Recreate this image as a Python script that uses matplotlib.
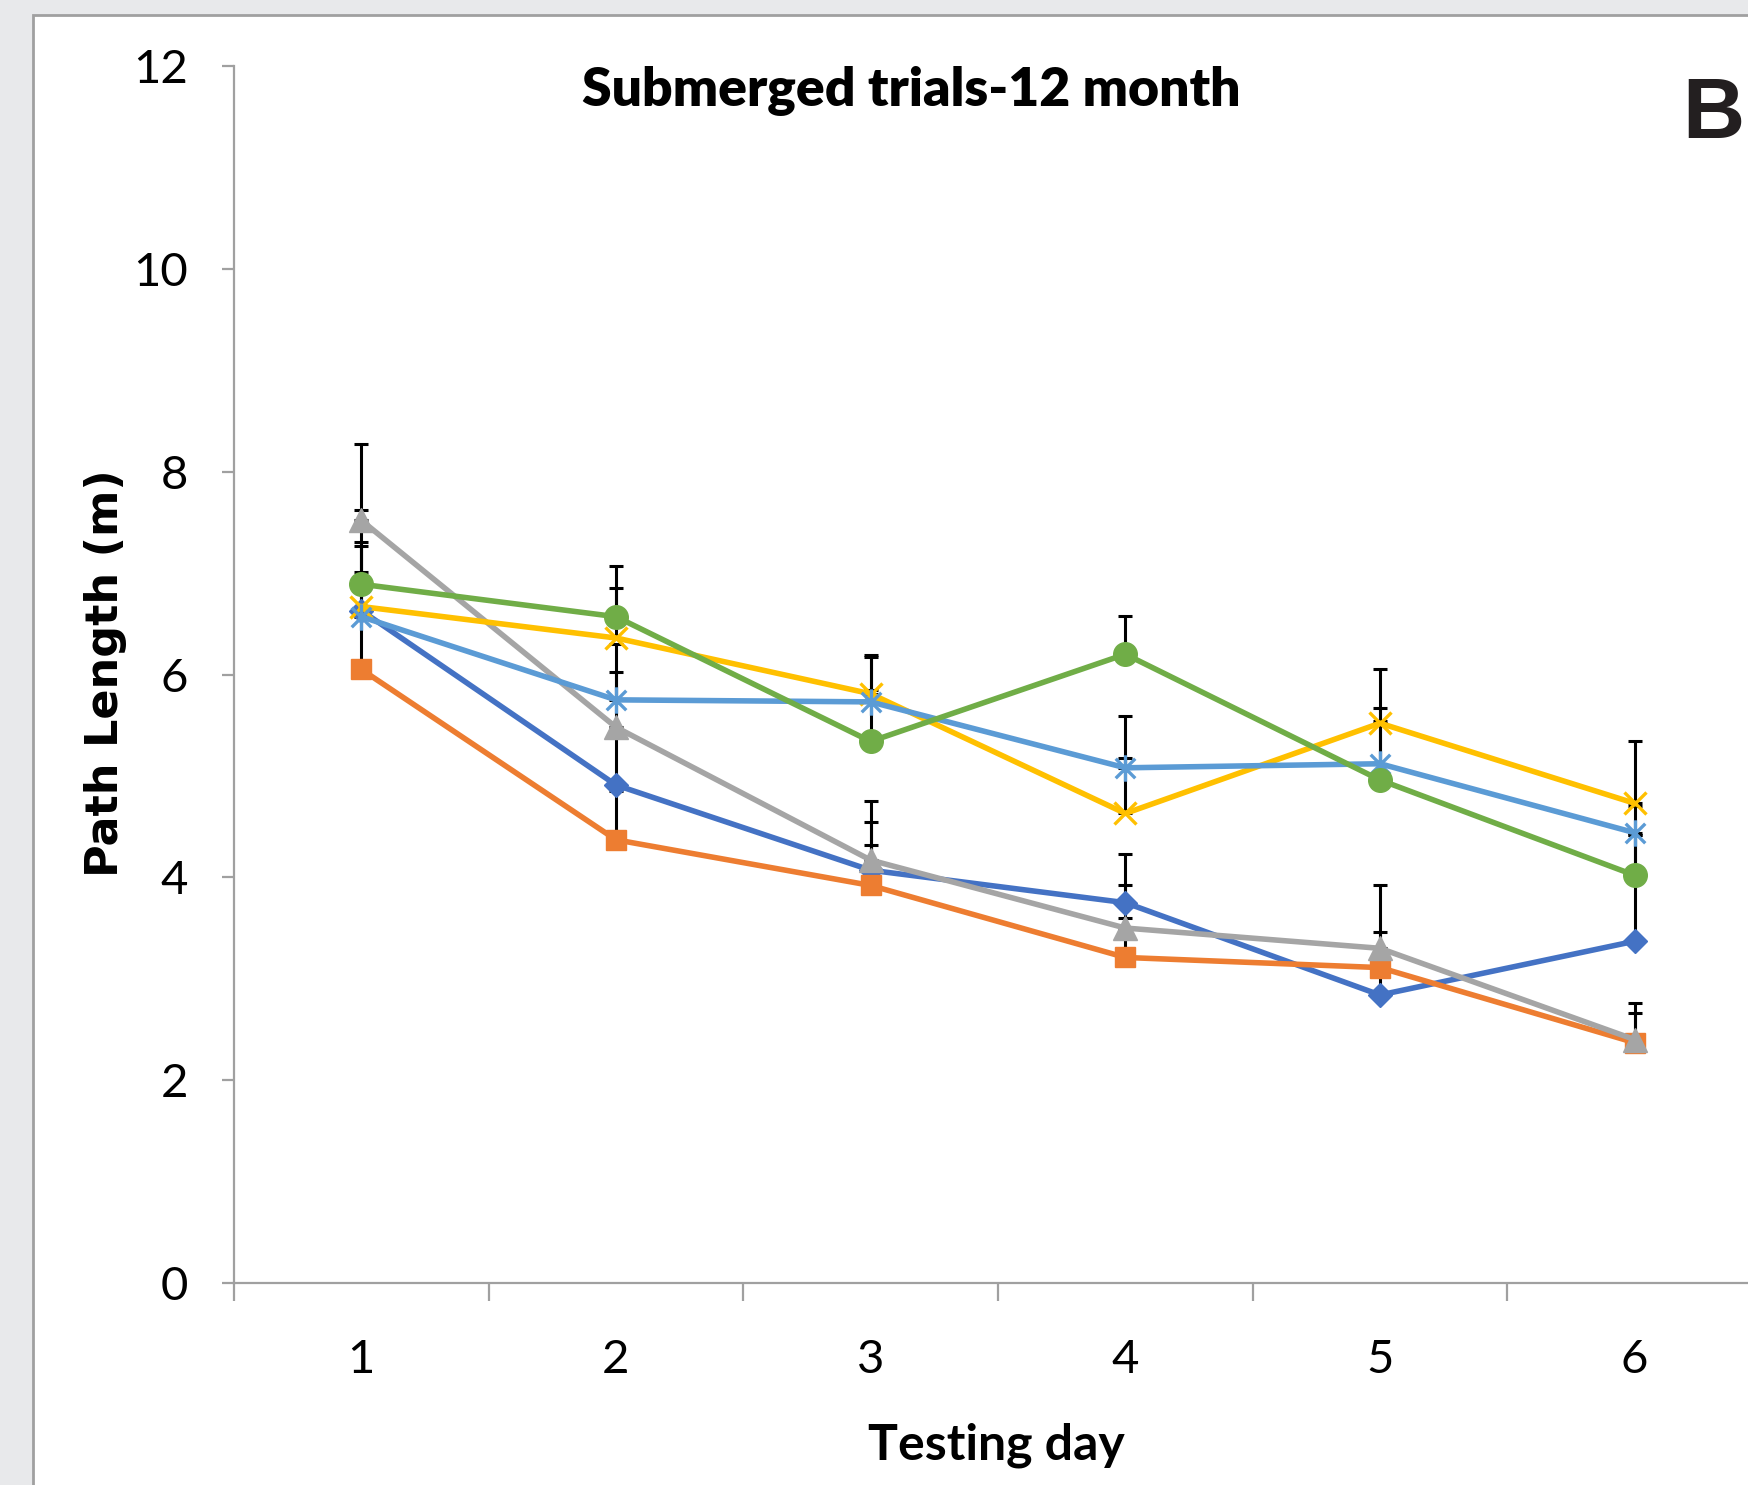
import numpy as np
import matplotlib
matplotlib.use('Agg')
import matplotlib.pyplot as plt
from matplotlib.path import Path
from matplotlib.patches import Rectangle

# path length (m) per testing day
days = [1, 2, 3, 4, 5, 6]
blue = [6.63, 4.91, 4.07, 3.75, 2.84, 3.37]
orange = [6.05, 4.37, 3.92, 3.21, 3.11, 2.37]
grey = [7.52, 5.48, 4.17, 3.50, 3.30, 2.40]
yellow = [6.67, 6.36, 5.81, 4.63, 5.52, 4.73]
ltblue = [6.57, 5.75, 5.73, 5.08, 5.12, 4.44]
green = [6.89, 6.57, 5.34, 6.20, 4.96, 4.02]

# upper error bars only
blue_err = [0.38, 0.54, 0.48, 0.48, 0.36, 1.05]
orange_err = [0.55, 0.48, 0.40, 0.39, 0.35, 0.29]
grey_err = [0.75, 0.54, 0.58, 0.42, 0.62, 0.36]
yellow_err = [0.64, 0.49, 0.38, 0.55, 0.53, 0.61]
ltblue_err = [0.70, 0.55, 0.44, 0.51, 0.55, 0.26]
green_err = [0.73, 0.50, 0.51, 0.38, 0.58, 0.40]

yticks = [0, 2, 4, 6, 8, 10, 12]

W, H = 1749, 1485
fig = plt.figure(figsize=(W/100, H/100), dpi=100)
fig.patch.set_facecolor('#e8e9eb')

def fx(px): return px / W
def fy(py): return 1 - py / H

# white panel with grey border
fig.patches.append(Rectangle((fx(33), fy(1600)), fx(1800), fy(15) - fy(1600),
                             transform=fig.transFigure, facecolor='white',
                             edgecolor='#a0a0a0', linewidth=2, zorder=-5))

ax = fig.add_axes([fx(234), fy(1283), fx(1762) - fx(234), fy(66) - fy(1283)])
ax.set_facecolor('none')

# asterisk marker (x with a vertical stroke)
star = Path([(-1, -1), (1, 1), (-1, 1), (1, -1), (0, -1.35), (0, 1.35)],
            [Path.MOVETO, Path.LINETO, Path.MOVETO, Path.LINETO, Path.MOVETO, Path.LINETO])

series = [
    (blue, blue_err, '#4472C4', dict(marker='D', markersize=12)),
    (orange, orange_err, '#ED7D31', dict(marker='s', markersize=15)),
    (grey, grey_err, '#A5A5A5', dict(marker='^', markersize=17)),
    (yellow, yellow_err, '#FFC000', dict(marker='x', markersize=16, markeredgewidth=2.4)),
    (ltblue, ltblue_err, '#5B9BD5', dict(marker=star, markersize=19, markeredgewidth=2.4,
                                         markerfacecolor='none')),
    (green, green_err, '#70AD47', dict(marker='o', markersize=17)),
]

for vals, err, c, mk in series:
    ax.errorbar(days, vals, yerr=[np.zeros(len(err)), err], fmt='none', ecolor='black',
                elinewidth=2.2, capsize=4.7, capthick=2.2, zorder=2)

for vals, err, c, mk in series:
    ax.plot(days, vals, color=c, linewidth=4, markeredgecolor=c, zorder=3, **mk)

ax.set_xlim(0.5, 6.5)
ax.set_ylim(0, 12)
for s in ['top', 'right']:
    ax.spines[s].set_visible(False)
for s in ['left', 'bottom']:
    ax.spines[s].set_color('#a0a0a0')
    ax.spines[s].set_linewidth(1.6)

ax.set_yticks(yticks)
ax.tick_params(axis='y', length=9, width=1.6, color='#a0a0a0', labelsize=34, pad=24)
ax.set_xticks(days)
ax.set_xticks(np.arange(0.5, 7, 1), minor=True)
ax.tick_params(axis='x', which='major', length=0, labelsize=34, pad=40)
ax.tick_params(axis='x', which='minor', length=13, width=1.6, color='#a0a0a0')
for lab in ax.get_xticklabels() + ax.get_yticklabels():
    lab.set_fontfamily('Lato')

fig.text(fx(911), fy(106), 'Submerged trials-12 month', fontsize=38.5, fontweight='heavy',
         family='Lato', ha='center', va='baseline')
fig.text(fx(1682), fy(138), 'B', fontsize=62, fontweight='bold', family='Liberation Sans',
         ha='left', va='baseline', color='#231f20')
fig.text(fx(106), fy(673), 'Path Length (m)', fontsize=32, fontweight='bold',
         family='DejaVu Sans', rotation=90, ha='center', va='center')
fig.text(fx(996), fy(1460), 'Testing day', fontsize=36, fontweight='bold', family='Lato',
         ha='center', va='baseline')

fig.savefig('out.png', dpi=100, facecolor=fig.get_facecolor())
